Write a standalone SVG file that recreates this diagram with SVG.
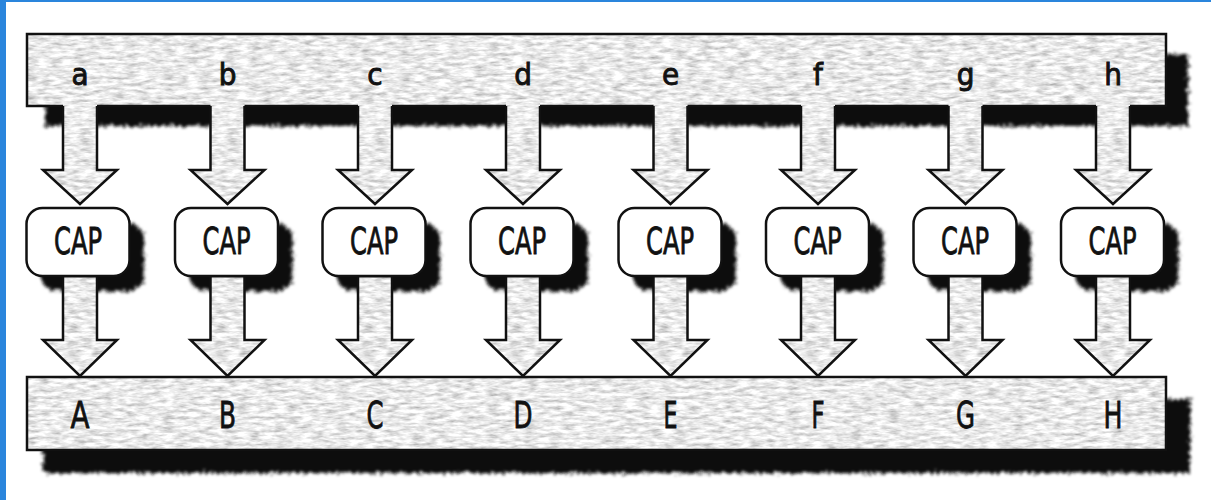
<svg xmlns="http://www.w3.org/2000/svg" xmlns:xlink="http://www.w3.org/1999/xlink" width="1211" height="500" viewBox="0 0 1211 500">
<style>
.edge{fill:none;stroke:#111;stroke-width:2.5;stroke-linejoin:miter}
.tx{fill:#ddd}
.shd{fill:#0c0c0c}
.lc,.uc,.cap{font-family:"DejaVu Sans Condensed","DejaVu Sans","Liberation Sans",sans-serif;fill:#111;stroke:#111;text-anchor:middle}
.lc{font-size:31px;stroke-width:0.9}
.uc{font-size:38px;stroke-width:0.8}
.cap{font-size:37px;stroke-width:0.8}
.box{fill:#fff;stroke:#111;stroke-width:2.5}
</style>
<defs>
<filter id="tex" x="-5%" y="-5%" width="110%" height="110%">
<feTurbulence type="fractalNoise" baseFrequency="0.08 0.3" numOctaves="3" seed="4" result="n"/>
<feColorMatrix in="n" type="matrix" values="1.0 0 0 0 0.32  1.0 0 0 0 0.32  1.0 0 0 0 0.32  0 0 0 0 1" result="g"/>
<feComposite in="g" in2="SourceGraphic" operator="in"/>
</filter>
<filter id="sh" x="-10%" y="-20%" width="120%" height="140%">
<feTurbulence type="fractalNoise" baseFrequency="0.35" numOctaves="2" seed="7" result="t"/>
<feDisplacementMap in="SourceGraphic" in2="t" scale="10" xChannelSelector="R" yChannelSelector="G" result="d"/>
<feGaussianBlur in="d" stdDeviation="1.6"/>
</filter>
<g id="arrTop">
<polygon class="tx" filter="url(#tex)" points="-17,102 17,102 17,170 37,170 0,204 -37,170 -17,170"/>
<polyline class="edge" points="-17,106 -17,170 -37,170 0,204 37,170 17,170 17,106"/>
</g>
<g id="arrBot">
<polygon class="tx" filter="url(#tex)" points="-17,277.5 17,277.5 17,340 37,340 0,376 -37,340 -17,340"/>
<polyline class="edge" points="-17,277 -17,340 -37,340 0,376 37,340 17,340 17,277"/>
</g>
<g id="capShape">
<rect class="shd" filter="url(#sh)" x="-37" y="223" width="103" height="68" rx="16"/>
<rect class="box" x="-51.5" y="208" width="103" height="68" rx="16"/>
<text class="cap" x="0" y="254" textLength="48" lengthAdjust="spacingAndGlyphs">CAP</text>
</g>
</defs>
<rect x="0" y="0" width="1211" height="500" fill="#fff"/>
<rect x="0" y="0" width="6" height="500" fill="#2a85dc"/>
<rect x="0" y="0" width="1211" height="2" fill="#2a85dc"/>

<g id="bus-in">
<rect class="shd" filter="url(#sh)" x="45" y="54" width="1143" height="72"/>
<rect class="tx" filter="url(#tex)" x="27" y="34" width="1139" height="72"/>
<rect class="edge" x="27" y="34" width="1139" height="72"/>
<text class="lc" x="80" y="85">a</text>
<text class="lc" x="227.5" y="85">b</text>
<text class="lc" x="375" y="85">c</text>
<text class="lc" x="523" y="85">d</text>
<text class="lc" x="670.5" y="85">e</text>
<text class="lc" x="818" y="85">f</text>
<text class="lc" x="965.5" y="85">g</text>
<text class="lc" x="1113" y="85">h</text>
</g>

<g id="bus-out">
<rect class="shd" filter="url(#sh)" x="43" y="399" width="1147" height="74"/>
<rect class="tx" filter="url(#tex)" x="27" y="377" width="1139" height="73"/>
<rect class="edge" x="27" y="377" width="1139" height="73"/>
<text class="uc" x="80" y="428" textLength="19" lengthAdjust="spacingAndGlyphs">A</text>
<text class="uc" x="227.5" y="428" textLength="17" lengthAdjust="spacingAndGlyphs">B</text>
<text class="uc" x="375" y="428" textLength="17" lengthAdjust="spacingAndGlyphs">C</text>
<text class="uc" x="523" y="428" textLength="19" lengthAdjust="spacingAndGlyphs">D</text>
<text class="uc" x="670.5" y="428" textLength="14" lengthAdjust="spacingAndGlyphs">E</text>
<text class="uc" x="818" y="428" textLength="13" lengthAdjust="spacingAndGlyphs">F</text>
<text class="uc" x="965.5" y="428" textLength="19" lengthAdjust="spacingAndGlyphs">G</text>
<text class="uc" x="1113" y="428" textLength="19" lengthAdjust="spacingAndGlyphs">H</text>
</g>

<g id="cap-a"><use xlink:href="#capShape" href="#capShape" x="78"/></g>
<g id="cap-b"><use xlink:href="#capShape" href="#capShape" x="226.5"/></g>
<g id="cap-c"><use xlink:href="#capShape" href="#capShape" x="374"/></g>
<g id="cap-d"><use xlink:href="#capShape" href="#capShape" x="522"/></g>
<g id="cap-e"><use xlink:href="#capShape" href="#capShape" x="670"/></g>
<g id="cap-f"><use xlink:href="#capShape" href="#capShape" x="817.5"/></g>
<g id="cap-g"><use xlink:href="#capShape" href="#capShape" x="965"/></g>
<g id="cap-h"><use xlink:href="#capShape" href="#capShape" x="1112.5"/></g>

<g id="connectors">
<use xlink:href="#arrTop" href="#arrTop" x="80"/>
<use xlink:href="#arrTop" href="#arrTop" x="227.5"/>
<use xlink:href="#arrTop" href="#arrTop" x="375"/>
<use xlink:href="#arrTop" href="#arrTop" x="523"/>
<use xlink:href="#arrTop" href="#arrTop" x="670.5"/>
<use xlink:href="#arrTop" href="#arrTop" x="818"/>
<use xlink:href="#arrTop" href="#arrTop" x="965.5"/>
<use xlink:href="#arrTop" href="#arrTop" x="1113"/>
<use xlink:href="#arrBot" href="#arrBot" x="80"/>
<use xlink:href="#arrBot" href="#arrBot" x="227.5"/>
<use xlink:href="#arrBot" href="#arrBot" x="375"/>
<use xlink:href="#arrBot" href="#arrBot" x="523"/>
<use xlink:href="#arrBot" href="#arrBot" x="670.5"/>
<use xlink:href="#arrBot" href="#arrBot" x="818"/>
<use xlink:href="#arrBot" href="#arrBot" x="965.5"/>
<use xlink:href="#arrBot" href="#arrBot" x="1113"/>
</g>
</svg>
